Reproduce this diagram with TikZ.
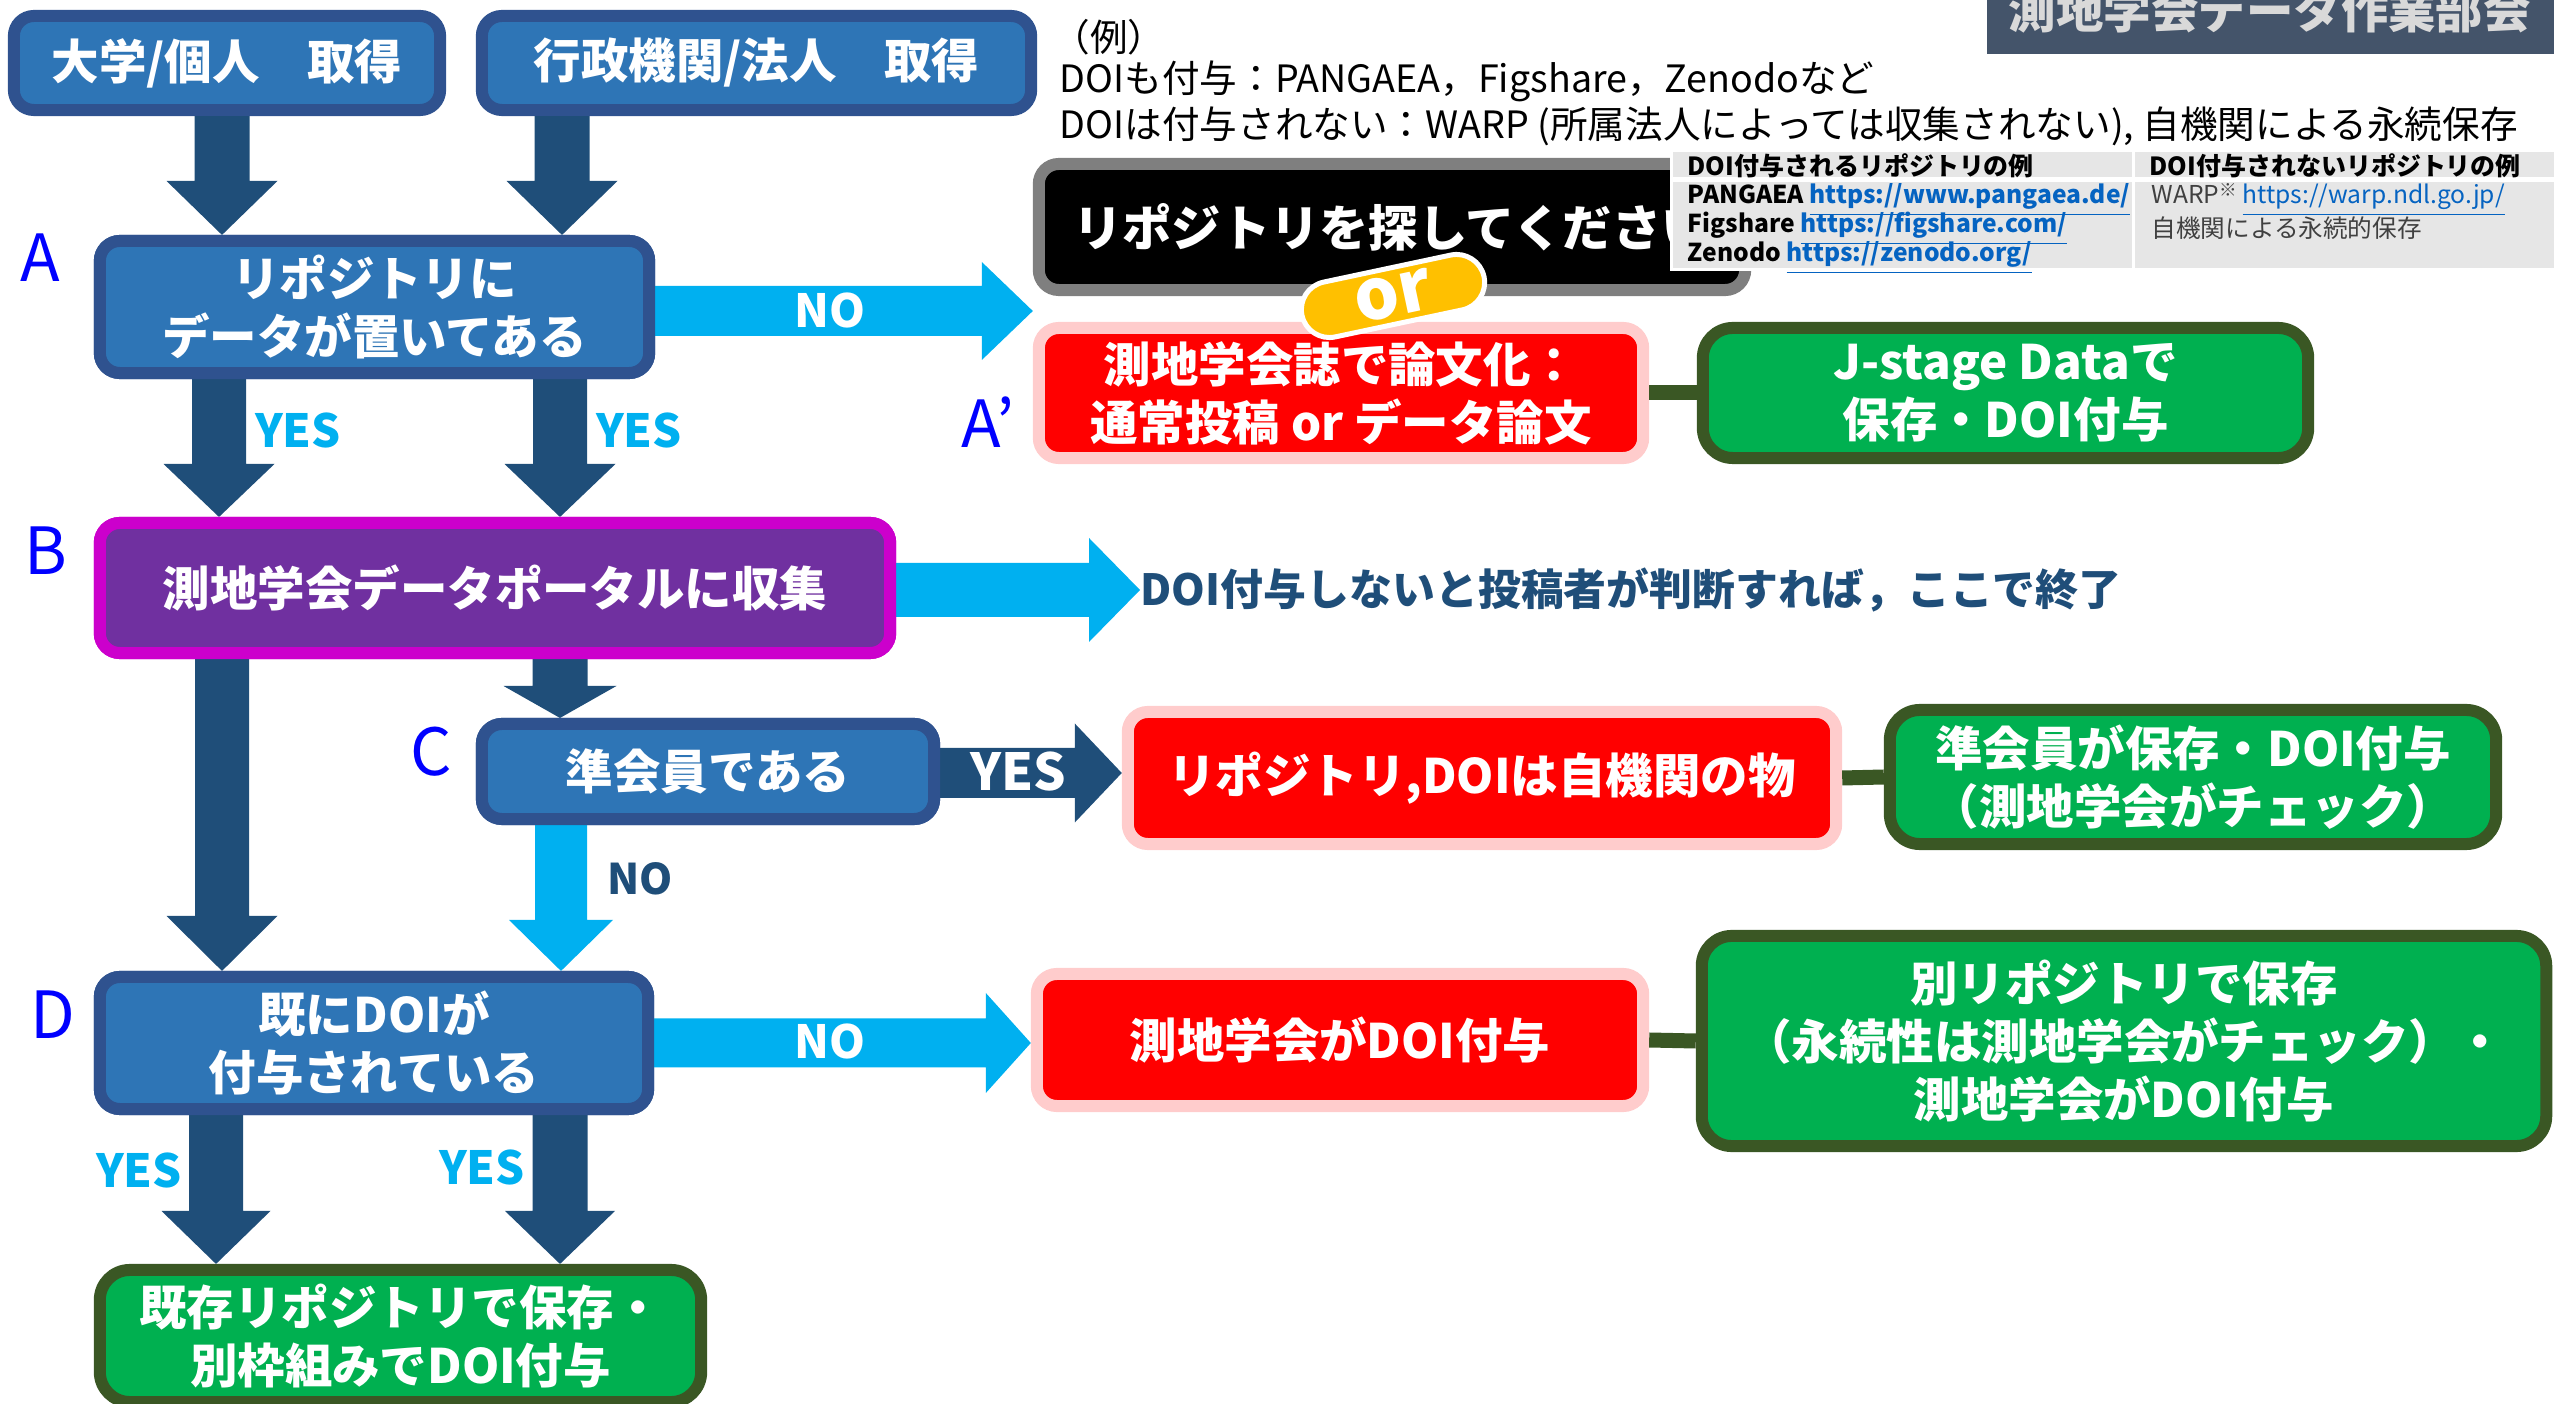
\documentclass[tikz,border=0pt]{standalone}
\usepackage{fontspec}
\setmainfont{Noto Sans CJK JP}
\usetikzlibrary{calc}
\definecolor{bborder}{HTML}{2F528F}
\definecolor{bfill}{HTML}{2E75B6}
\definecolor{darr}{HTML}{1F4E79}
\definecolor{larr}{HTML}{00B0F0}
\definecolor{pborder}{HTML}{CC00CC}
\definecolor{pfill}{HTML}{7030A0}
\definecolor{rborder}{HTML}{FFCCCC}
\definecolor{rfill}{HTML}{FF0000}
\definecolor{gborder}{HTML}{3A5724}
\definecolor{gfill}{HTML}{00B050}
\definecolor{kborder}{HTML}{7F7F7F}
\definecolor{orfill}{HTML}{FFC000}
\definecolor{tabfill}{HTML}{44546A}
\definecolor{tabtext}{HTML}{D9D9D9}
\definecolor{tgray}{HTML}{E6E6E6}
\definecolor{linkc}{HTML}{0563C1}
\definecolor{lblue}{HTML}{0000FF}
\definecolor{wtext}{HTML}{404040}
\newcommand\fsz[2]{\fontsize{#1}{#2}\selectfont}
% vertical block arrow: style, xc, from, to, halfshaft, halfhead, headlen
\newcommand\downblk[7]{%
\fill[#1] (#2-#5,0 |- #3) -- (#2+#5,0 |- #3) -- ($(#2+#5,0 |- #4)+(0,-#7)$) -- ($(#2+#6,0 |- #4)+(0,-#7)$) -- (#2,0 |- #4) -- ($(#2-#6,0 |- #4)+(0,-#7)$) -- ($(#2-#5,0 |- #4)+(0,-#7)$) -- cycle;}
% horizontal block arrow: style, yc, from, to, halfshaft, halfhead, headlen
\newcommand\rightblk[7]{%
\fill[#1] (#3 |- 0,#2-#5) -- (#3 |- 0,#2+#5) -- ($(#4 |- 0,#2+#5)+(-#7,0)$) -- ($(#4 |- 0,#2+#6)+(-#7,0)$) -- (#4 |- 0,#2) -- ($(#4 |- 0,#2-#6)+(-#7,0)$) -- ($(#4 |- 0,#2-#5)+(-#7,0)$) -- cycle;}
\tikzset{
  boxbase/.style={rounded corners=0.2cm, line width=0.12cm, align=center, text=white, inner sep=0pt,
    font=\fsz{13.5pt}{16.5pt}\bfseries},
  bluebox/.style={boxbase, draw=bborder, fill=bfill},
  purplebox/.style={boxbase, draw=pborder, fill=pfill},
  redbox/.style={boxbase, draw=rborder, fill=rfill},
  greenbox/.style={boxbase, draw=gborder, fill=gfill, rounded corners=0.3cm},
  blackbox/.style={boxbase, draw=kborder, fill=black, font=\fsz{14pt}{16pt}\bfseries},
  darkarrow/.style={fill=darr},
  lightarrow/.style={fill=larr},
  gbar/.style={draw=gborder, line width=0.15cm},
  steplabel/.style={text=lblue, font=\fsz{18.5pt}{20pt}, inner sep=0pt},
  yeslabel/.style={text=larr, font=\fsz{13pt}{14pt}\bfseries, inner sep=0pt},
  onlabel/.style={text=white, font=\fsz{13pt}{14pt}\bfseries, inner sep=0pt},
  exline/.style={anchor=west, inner sep=0pt, font=\fsz{10.7pt}{12pt}, text=black},
  tabhead/.style={anchor=west, inner sep=0pt, font=\fsz{7.1pt}{8pt}\bfseries, text=black},
  tabcell/.style={anchor=west, inner sep=0pt, font=\fsz{7pt}{8pt}},
}
\begin{document}
\begin{tikzpicture}[x=0.01cm, y=-0.01cm]
\useasboundingbox (0,0) rectangle (2554,1404);
% ---- nodes
\node[bluebox, minimum width=4.26cm, minimum height=0.94cm] (b1) at (227,63) {大学/個人　取得};
\node[bluebox, minimum width=5.49cm, minimum height=0.94cm] (b2) at (756.5,63) {行政機関/法人　取得};
\node[bluebox, minimum width=5.49cm, minimum height=1.32cm] (A) at (374.5,307) {リポジトリに\\データが置いてある};
\node[blackbox, minimum width=7.06cm, minimum height=1.26cm] (srch) at (1392,227) {リポジトリを探してください};
\node[redbox, minimum width=6.04cm, minimum height=1.30cm] (redA) at (1341,393) {測地学会誌で論文化：\\通常投稿 or データ論文};
\node[greenbox, minimum width=6.05cm, minimum height=1.30cm] (greenA) at (2005.5,393) {J-stage Dataで\\保存・DOI付与};
\node[purplebox, minimum width=7.90cm, minimum height=1.30cm] (B) at (495,588) {測地学会データポータルに収集};
\node[anchor=west, inner sep=0pt, text=darr, font=\fsz{12.2pt}{14pt}\bfseries] (endtxt) at (1140,590) {DOI付与しないと投稿者が判断すれば，ここで終了};
\node[bluebox, minimum width=4.52cm, minimum height=0.95cm] (C) at (708,771.5) {準会員である};
\node[redbox, minimum width=7.08cm, minimum height=1.32cm] (redC) at (1482,778) {リポジトリ,DOIは自機関の物};
\node[greenbox, minimum width=6.06cm, minimum height=1.34cm] (greenC) at (2193,777) {準会員が保存・DOI付与\\（測地学会がチェック）};
\node[bluebox, minimum width=5.48cm, minimum height=1.32cm] (D) at (374,1043) {既にDOIが\\付与されている};
\node[redbox, minimum width=6.06cm, minimum height=1.32cm] (redD) at (1340,1040) {測地学会がDOI付与};
\node[greenbox, minimum width=8.44cm, minimum height=2.10cm] (greenD) at (2124,1041) {別リポジトリで保存\\（永続性は測地学会がチェック）・\\測地学会がDOI付与};
\node[greenbox, minimum width=6.01cm, minimum height=1.32cm] (E) at (400.5,1336) {既存リポジトリで保存・\\別枠組みでDOI付与};
% ---- connectors
\downblk{darkarrow}{222}{b1.south}{A.north}{27.5}{55.5}{54}
\downblk{darkarrow}{562}{b2.south}{A.north}{27.5}{55.5}{54}
\downblk{darkarrow}{219}{A.south}{B.north}{27}{55.5}{53}
\downblk{darkarrow}{560}{A.south}{B.north}{27}{55.5}{53}
\rightblk{lightarrow}{311}{A.east}{redA.west}{25}{49}{51}
\rightblk{lightarrow}{590}{B.east}{endtxt.west}{27}{52}{51}
\downblk{darkarrow}{222}{B.south}{D.north}{27}{55.5}{55}
\downblk{darkarrow}{560}{B.south}{C.north}{27.5}{56.5}{32}
\rightblk{darkarrow}{773}{C.east}{redC.west}{25}{49.5}{47}
\downblk{lightarrow}{561}{C.south}{D.north}{26}{52}{51}
\rightblk{lightarrow}{1043}{D.east}{redD.west}{24.5}{50}{45}
\downblk{darkarrow}{216}{D.south}{E.north}{27}{54.5}{53}
\downblk{darkarrow}{560}{D.south}{E.north}{27.5}{55}{53}
\draw[gbar] (redA.east) -- (greenA.west);
\draw[gbar] (redC.east) -- (greenC.west);
\draw[gbar] (redD.east) -- (greenD.west);
% redraw boxes on top of arrow ends
\node[bluebox, minimum width=5.49cm, minimum height=1.32cm] at (374.5,307) {リポジトリに\\データが置いてある};
\node[purplebox, minimum width=7.90cm, minimum height=1.30cm] at (495,588) {測地学会データポータルに収集};
\node[bluebox, minimum width=4.52cm, minimum height=0.95cm] at (708,771.5) {準会員である};
\node[bluebox, minimum width=5.48cm, minimum height=1.32cm] at (374,1043) {既にDOIが\\付与されている};
% ---- connector labels
\node[onlabel] (noA) at (830,311) {NO};
\node[yeslabel] (yesA1) at (298,431) {YES};
\node[yeslabel] (yesA2) at (639,431) {YES};
\node[text=white, font=\fsz{14.5pt}{16pt}\bfseries, inner sep=0pt] (yesC) at (1018,772) {YES};
\node[text=darr, font=\fsz{12pt}{13pt}\bfseries, inner sep=0pt] (noC) at (640,879) {NO};
\node[onlabel] (noD) at (830,1041) {NO};
\node[yeslabel] (yesD1) at (139,1170) {YES};
\node[yeslabel] (yesD2) at (482,1167) {YES};
% ---- step letters
\node[steplabel] (lA) at (40,258) {A};
\node[steplabel] (lAp) at (988,422) {A’};
\node[steplabel] (lB) at (46,551) {B};
\node[steplabel] (lC) at (431,752) {C};
\node[steplabel] (lD) at (53,1015) {D};
% ---- or pill
\node[rotate=12, fill=orfill, draw=white, line width=0.05cm, rounded corners=0.28cm,
  minimum width=1.86cm, minimum height=0.56cm, inner sep=0pt, text=white,
  font=\fsz{20pt}{20pt}\bfseries] (orp) at (1393,296) {or};
% ---- example text
\node[exline] (ex1) at (1052,37) {（例）};
\node[exline] (ex2) at (1059,81) {DOIも付与：PANGAEA，Figshare，Zenodoなど};
\node[exline] (ex3) at (1059,126) {DOIは付与されない：WARP (所属法人によっては収集されない), 自機関による永続保存};
% ---- header tab
\fill[tabfill] (1987,0) rectangle (2554,54);
\node[anchor=base west, inner sep=0pt, text=tabtext, font=\fsz{13.5pt}{14pt}\bfseries] (tab) at (2008,29) {測地学会データ作業部会};
% ---- table
\fill[white] (1670,149) rectangle (2554,271);
\fill[tgray] (1673,152) rectangle (2131.5,177);
\fill[tgray] (2134.5,152) rectangle (2554,177);
\fill[tgray] (1673,182) rectangle (2131.5,268);
\fill[tgray] (2134.5,182) rectangle (2554,268);
\node[tabhead] (th1) at (1687,166) {DOI付与されるリポジトリの例};
\node[tabhead] (th2) at (2149,166) {DOI付与されないリポジトリの例};
\node[tabcell, font=\fsz{7pt}{8pt}\bfseries] (tc1) at (1687,200) {PANGAEA \textcolor{linkc}{\underline{https://www.pangaea.de/}}};
\node[tabcell, font=\fsz{7pt}{8pt}\bfseries] (tc2) at (1687,229) {Figshare \textcolor{linkc}{\underline{https://figshare.com/}}};
\node[tabcell, font=\fsz{7pt}{8pt}\bfseries] (tc3) at (1687,258) {Zenodo \textcolor{linkc}{\underline{https://zenodo.org/}}};
\node[tabcell, text=wtext] (tc4) at (2151,200) {WARP\raisebox{2pt}{\fsz{5pt}{5pt}※} \textcolor{linkc}{\underline{https://warp.ndl.go.jp/}}};
\node[tabcell, text=wtext] (tc5) at (2151,228) {自機関による永続的保存};
\end{tikzpicture}
\end{document}
